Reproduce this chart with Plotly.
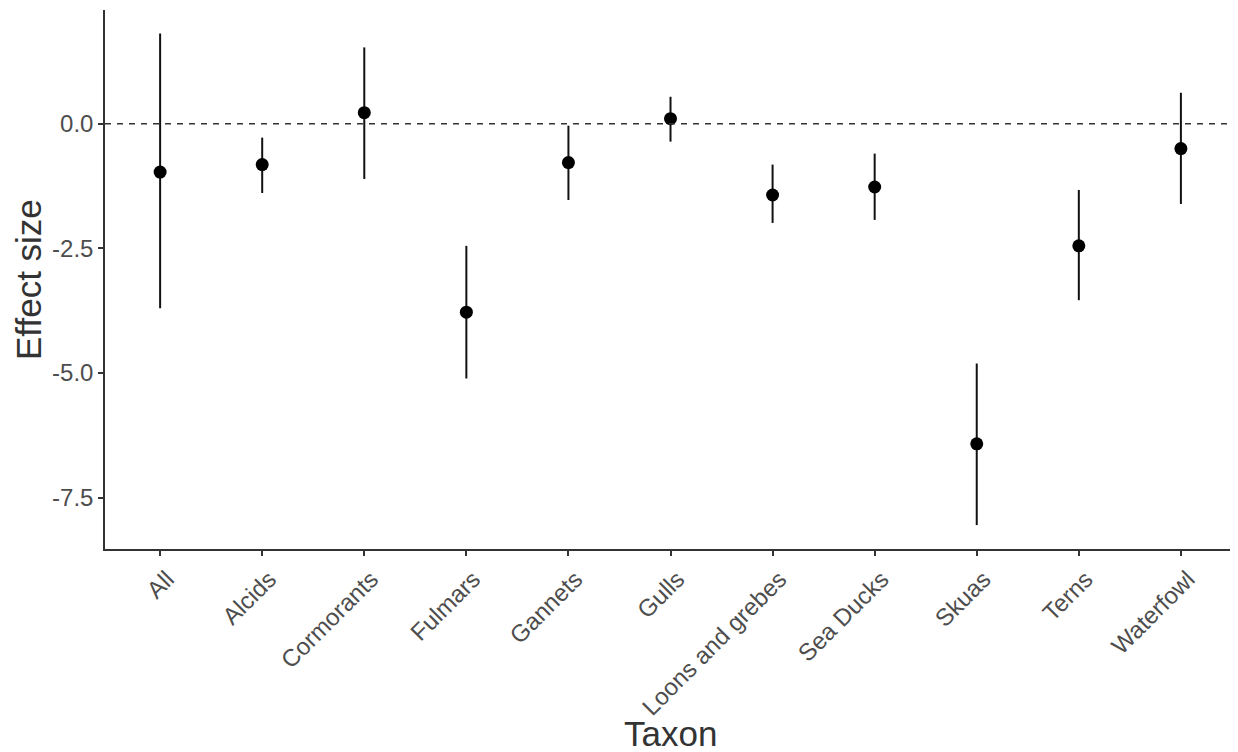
import plotly.graph_objects as go

taxa = ["All", "Alcids", "Cormorants", "Fulmars", "Gannets", "Gulls",
        "Loons and grebes", "Sea Ducks", "Skuas", "Terns", "Waterfowl"]
effect = [-0.97, -0.82, 0.22, -3.78, -0.78, 0.10, -1.43, -1.27, -6.42, -2.45, -0.50]
upper = [1.81, -0.28, 1.53, -2.45, -0.04, 0.54, -0.82, -0.60, -4.81, -1.33, 0.62]
lower = [-3.70, -1.39, -1.11, -5.11, -1.53, -0.36, -1.99, -1.93, -8.05, -3.54, -1.61]
y_ticks = [0.0, -2.5, -5.0, -7.5]

err_plus = [u - e for u, e in zip(upper, effect)]
err_minus = [e - l for e, l in zip(effect, lower)]

FONT = "Liberation Sans, Arial, sans-serif"

fig = go.Figure()
fig.add_trace(go.Scatter(
    x=taxa, y=effect, mode="markers",
    marker=dict(color="black", size=13),
    error_y=dict(type="data", symmetric=False, array=err_plus, arrayminus=err_minus,
                 width=0, thickness=2, color="#111111"),
    showlegend=False, cliponaxis=False,
))
fig.add_hline(y=0, line=dict(color="#333333", dash="6px,6px", width=1.5))

# page body has an 8px margin, so the figure is sized to fill the rest
W, H = 1230, 744
ml, mr, mt, mb = 97, 3, 2, 203
pw, ph = W - ml - mr, H - mt - mb

fig.update_layout(
    width=W, height=H,
    margin=dict(l=ml, r=mr, t=mt, b=mb, autoexpand=False),
    paper_bgcolor="white", plot_bgcolor="white",
    font=dict(family=FONT),
    xaxis=dict(
        range=[-0.54, 10.53], tickangle=-45, automargin=False,
        showline=True, linecolor="#333333", linewidth=1.5,
        ticks="outside", ticklen=5, tickcolor="#333333", tickwidth=1.5,
        tickfont=dict(size=24, color="#4D4D4D"),
        ticklabelshift=7,
        showgrid=False, zeroline=False,
    ),
    yaxis=dict(
        range=[-8.53, 2.28], automargin=False,
        tickvals=y_ticks, ticktext=[f"{v:.1f}" for v in y_ticks],
        showline=True, linecolor="#333333", linewidth=1.5,
        ticks="outside", ticklen=5, tickcolor="#333333", tickwidth=1.5,
        tickfont=dict(size=24, color="#4D4D4D"),
        showgrid=False, zeroline=False,
    ),
    annotations=[
        dict(text="Taxon", xref="paper", yref="paper", x=0.5, y=-184 / ph,
             xanchor="center", yanchor="middle", showarrow=False,
             font=dict(size=35, color="#333333", family=FONT)),
        dict(text="Effect size", xref="paper", yref="paper", x=-76.5 / pw, y=0.5,
             xanchor="center", yanchor="middle", showarrow=False, textangle=-90,
             font=dict(size=35, color="#333333", family=FONT)),
    ],
)

fig.write_html("out.html")
